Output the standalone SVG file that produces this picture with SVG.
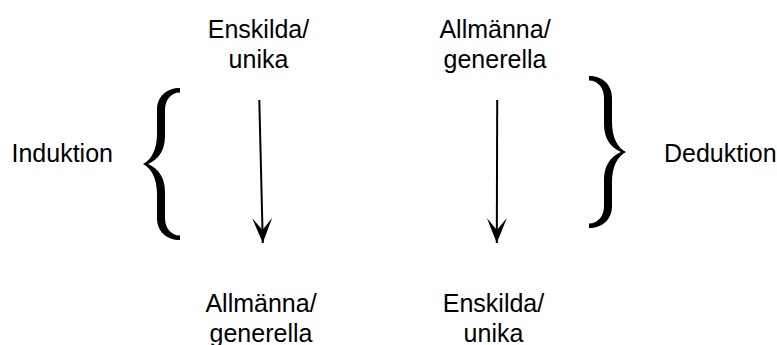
<svg xmlns="http://www.w3.org/2000/svg" width="777" height="345" viewBox="0 0 777 345">
<style>
  .lbl { font-family: "Liberation Sans", Arial, Helvetica, sans-serif; font-size: 25px; fill: #000; }
  .mid { text-anchor: middle; }
  .brace { fill: #000; stroke: none; }
  .conn { stroke: #000; stroke-width: 2; fill: none; }
</style>
<defs>
  <marker id="arrow" markerUnits="userSpaceOnUse" markerWidth="30" markerHeight="24" viewBox="-28 -12 30 24" refX="0" refY="0" orient="auto">
    <path d="M0,0 L-25,-10 L-13,0 L-25,10 Z" fill="#000"/>
  </marker>
  <path id="brace" d="M37,-76 C24,-76 14,-68 14,-54 L14,-30 C14,-14 8,-4 0,0 C8,4 14,14 14,30 L14,54 C14,68 24,76 37,76 L37,71.5 C28,71.5 22,64 22,54 L22,28 C22,14 16,5 5,0 C16,-5 22,-14 22,-28 L22,-54 C22,-64 28,-71.5 37,-71.5 Z"/>
</defs>
<rect width="777" height="345" fill="#fff"/>
<g id="top-left">
  <text class="lbl mid" x="258.5" y="38">Enskilda/</text>
  <text class="lbl mid" x="258.5" y="68">unika</text>
</g>
<g id="top-right">
  <text class="lbl mid" x="495" y="38">Allmänna/</text>
  <text class="lbl mid" x="495" y="68">generella</text>
</g>
<g id="bottom-left">
  <text class="lbl mid" x="261" y="311.5">Allmänna/</text>
  <text class="lbl mid" x="261" y="341.5">generella</text>
</g>
<g id="bottom-right">
  <text class="lbl mid" x="493.5" y="311.5">Enskilda/</text>
  <text class="lbl mid" x="493.5" y="341.5">unika</text>
</g>
<g id="induktion">
  <use href="#brace" class="brace" transform="translate(143,164)"/>
  <text class="lbl" x="11.5" y="162">Induktion</text>
</g>
<g id="deduktion">
  <use href="#brace" class="brace" transform="translate(626,152) scale(-1,1)"/>
  <text class="lbl" x="664" y="162">Deduktion</text>
</g>
<g id="connectors">
  <line class="conn" x1="259.3" y1="100" x2="262.8" y2="243" marker-end="url(#arrow)"/>
  <line class="conn" x1="497.2" y1="100" x2="496.8" y2="243" marker-end="url(#arrow)"/>
</g>
</svg>
